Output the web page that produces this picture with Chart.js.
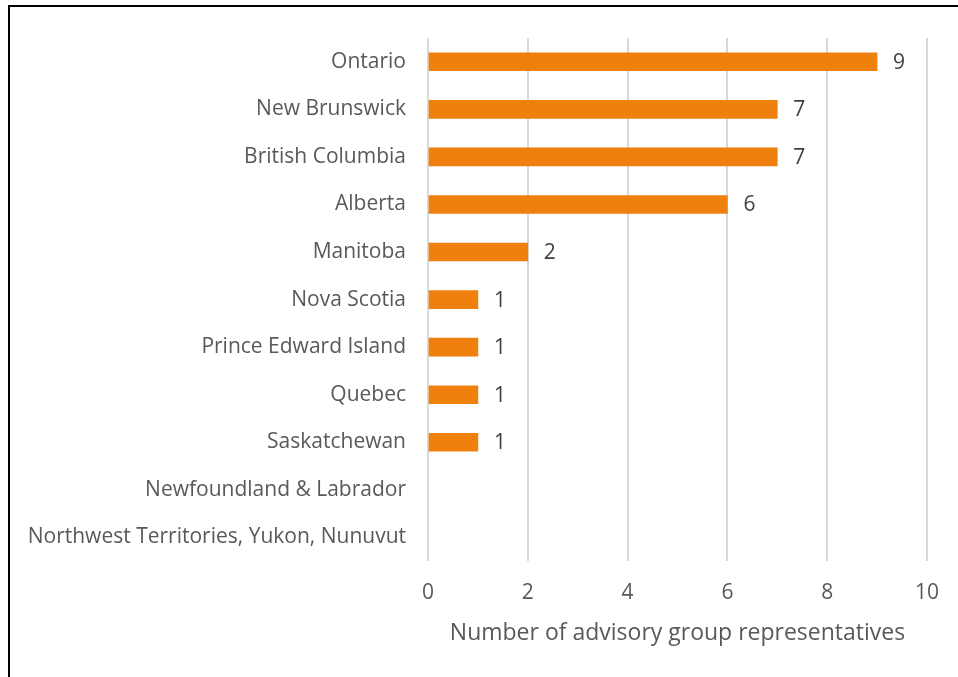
<!DOCTYPE html>
<html>
<head>
<meta charset="utf-8">
<script src="https://cdn.jsdelivr.net/npm/chart.js@4.4.0/dist/chart.umd.min.js"></script>
<style>
    body { margin: 0; background: #fff; }
    #wrap { position: relative; width: 958px; height: 677px; }
    #frame { position: absolute; left: 8px; top: 5px; width: 960px; height: 690px;
             border-top: 2px solid #000; border-left: 2px solid #000; }
    canvas { position: absolute; left: 0; top: 0; }
</style>
</head>
<body>
<div id="wrap">
    <div id="frame"></div>
    <canvas id="chart" width="958" height="677"></canvas>
</div>
<script>
// provinces, top to bottom
var provinces = [
    'Ontario',
    'New Brunswick',
    'British Columbia',
    'Alberta',
    'Manitoba',
    'Nova Scotia',
    'Prince Edward Island',
    'Quebec',
    'Saskatchewan',
    'Newfoundland & Labrador',
    'Northwest Territories, Yukon, Nunuvut'
];
var representatives = [9, 7, 7, 6, 2, 1, 1, 1, 1, 0, 0];
var axisTicks = [0, 2, 4, 6, 8, 10];
var axisTitle = 'Number of advisory group representatives';

var fontName = "'Open Sans', 'Noto Sans', sans-serif";

// value labels next to the bars
var barLabels = {
    id: 'barLabels',
    afterDatasetsDraw: function (chart) {
        var ctx = chart.ctx;
        var meta = chart.getDatasetMeta(0);
        ctx.save();
        ctx.font = '21px ' + fontName;
        ctx.fillStyle = '#404040';
        ctx.textAlign = 'left';
        ctx.textBaseline = 'middle';
        meta.data.forEach(function (bar, i) {
            var v = representatives[i];
            if (!v) return;
            ctx.fillText(String(v), bar.x + 16, bar.y + 1);
        });
        ctx.restore();
    }
};

var ctx = document.getElementById('chart').getContext('2d');
var myChart = new Chart(ctx, {
    type: 'bar',
    data: {
        labels: provinces,
        datasets: [{
            data: representatives,
            backgroundColor: function (c) { return c.raw ? '#f0800e' : 'rgba(0,0,0,0)'; },
            barThickness: 18
        }]
    },
    options: {
        indexAxis: 'y',
        responsive: false,
        animation: false,
        layout: { padding: { top: 38, right: 30, bottom: 30, left: 0 } },
        plugins: {
            legend: { display: false },
            tooltip: { enabled: false }
        },
        scales: {
            x: {
                min: 0,
                max: 10,
                afterBuildTicks: function (scale) {
                    scale.ticks = axisTicks.map(function (v) { return { value: v }; });
                },
                grid: { color: '#d9d9d9', lineWidth: 2, drawTicks: false },
                border: { display: false },
                ticks: { color: '#595959', font: { family: fontName, size: 21 }, padding: 19 },
                title: {
                    display: true,
                    text: axisTitle,
                    color: '#595959',
                    font: { family: fontName, size: 23 },
                    padding: { top: -5, bottom: 0 }
                }
            },
            y: {
                grid: { display: false, drawTicks: false },
                border: { display: false },
                ticks: { color: '#595959', font: { family: fontName, size: 21 }, padding: 22 },
                afterFit: function (scale) { scale.width = 428; }
            }
        }
    },
    plugins: [barLabels]
});
</script>
</body>
</html>
